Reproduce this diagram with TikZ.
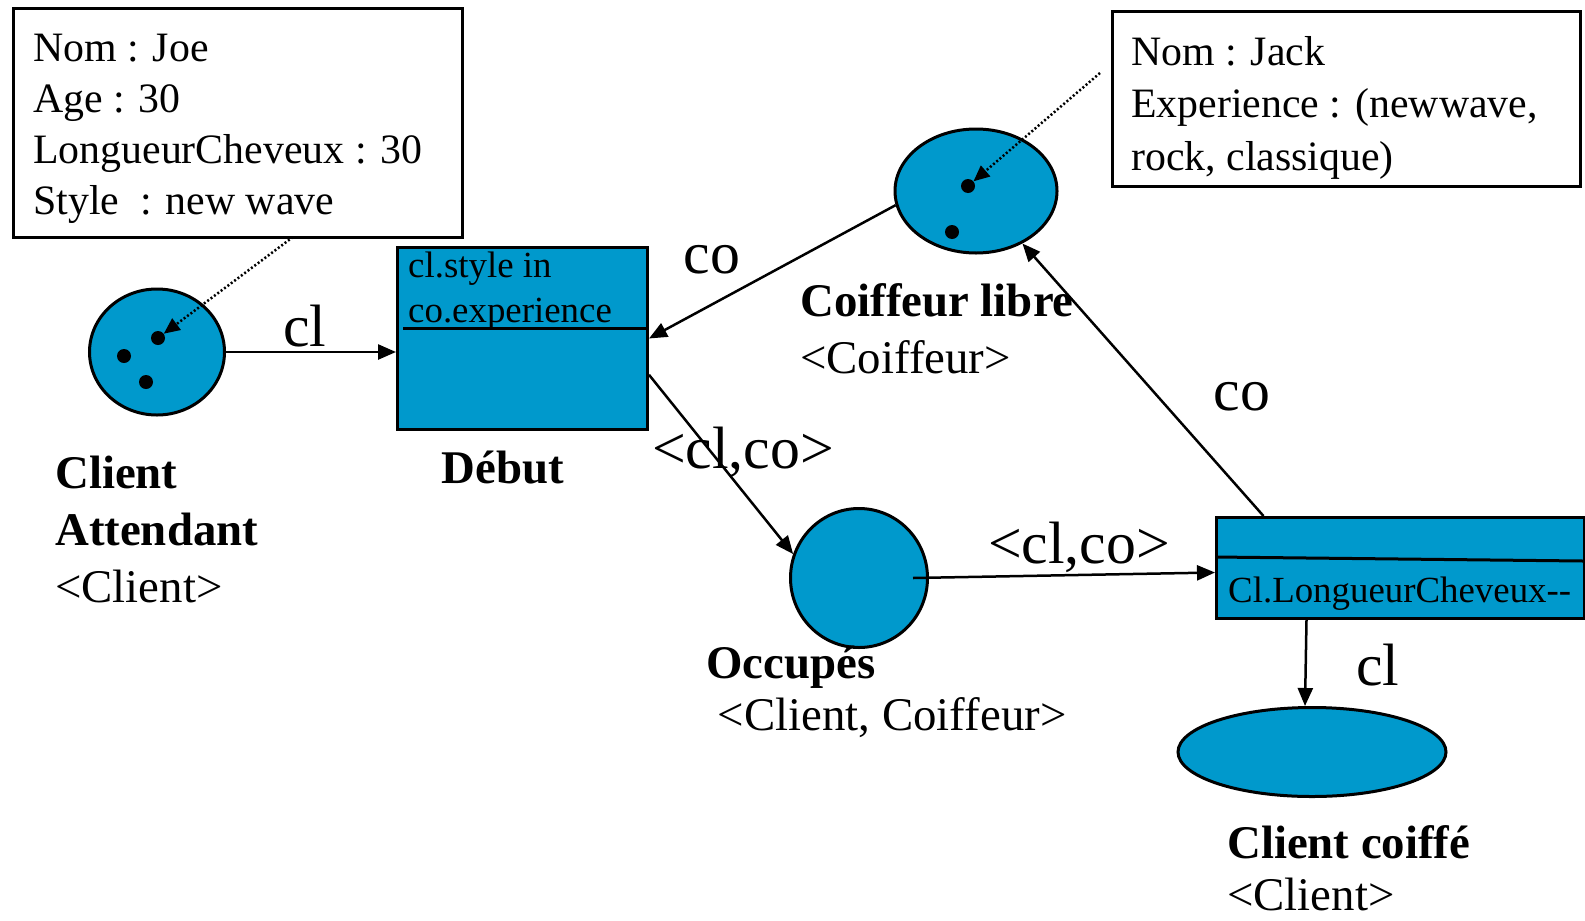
\documentclass[tikz,border=0pt]{standalone}
\usepackage{fontspec}
\setmainfont{Liberation Serif}
\usetikzlibrary{shapes.geometric,arrows.meta}
\definecolor{placefill}{RGB}{0,153,204}
\begin{document}
\begin{tikzpicture}[x=1bp,y=-1bp,
  place/.style={ellipse, draw, line width=3bp, fill=placefill, inner sep=0pt},
  trans/.style={rectangle, draw, line width=3bp, fill=placefill, inner sep=0pt, anchor=north west},
  token/.style={circle, fill=black, inner sep=0pt, minimum size=14bp},
  arc/.style={line width=2.5bp, -{Triangle[length=18bp,width=15bp]}},
  note/.style={line width=2.5bp, dash pattern=on 2bp off 2.2bp, -{Triangle[length=16bp,width=14bp]}},
  infobox/.style={rectangle, draw, line width=3bp, inner sep=0pt, anchor=north west},
  infotext/.style={align=left, font=\fontsize{42}{51}\selectfont, inner sep=0pt, anchor=base west},
  guardtext/.style={align=left, font=\fontsize{37}{45}\selectfont, inner sep=0pt, anchor=base west},
  placelabel/.style={align=left, font=\fontsize{47}{57}\selectfont, inner sep=0pt, anchor=base west},
  arclabel/.style={font=\fontsize{60}{60}\selectfont, inner sep=0pt, anchor=base},
]
\useasboundingbox (0,0) rectangle (1585,920);

% --- attribute notes (multi-line nodes sit on their last baseline) ---
\node[infobox, minimum width=449bp, minimum height=229bp] (joe) at (12,7) {};
\node[infotext] (joetext) at (33,214) {Nom : Joe\\Age : 30\\LongueurCheveux : 30\\Style\ \ : new wave};
\node[infobox, minimum width=468bp, minimum height=175bp] (jack) at (1111,10) {};
\node[infotext, font=\fontsize{42}{52.5}\selectfont] (jacktext) at (1131,170) {Nom : Jack\\Experience : (newwave,\\rock, classique)};

% --- places ---
\node[place, minimum width=135bp, minimum height=126bp] (ca) at (157,352) {};
\node[token] (ca1) at (158,338) {};
\node[token] (ca2) at (124,356) {};
\node[token] (ca3) at (146,382) {};
\node[placelabel] (calabel) at (55,602) {\textbf{Client}\\\textbf{Attendant}\\<Client>};

\node[place, minimum width=162bp, minimum height=124bp] (cf) at (976,191) {};
\node[token] (cf1) at (968,186) {};
\node[token] (cf2) at (952,232) {};
\node[placelabel] (cflabel) at (800,373) {\textbf{Coiffeur libre}\\<Coiffeur>};

\node[place, minimum width=137bp, minimum height=139bp] (occ) at (859,578) {};
\node[placelabel, font=\fontsize{47}{52}\selectfont] (occlabel) at (706,730) {\textbf{Occupés}\\\ <Client, Coiffeur>};

\node[place, minimum width=268bp, minimum height=89bp] (cc) at (1312,752) {};
\node[placelabel, font=\fontsize{47}{52}\selectfont] (cclabel) at (1227,910) {\textbf{Client coiffé}\\<Client>};

% --- transitions ---
\node[trans, minimum width=250bp, minimum height=182bp] (debut) at (396,246) {};
\draw[line width=3bp] (403,328) -- (647,328);
\node[guardtext] (debutguard) at (408,322) {cl.style in\\co.experience};
\node[placelabel, anchor=base] (debutlabel) at (503,483) {\textbf{Début}};

\node[trans, minimum width=368bp, minimum height=101bp] (lc) at (1215,516) {};
\draw[line width=3bp] (1215,557) -- (1583,561);
\node[guardtext] (lcaction) at (1228,602) {Cl.LongueurCheveux\mbox{-}\mbox{-}};

% --- note pointers ---
\coordinate (joetail) at (293,237);
\draw[note] (joetail) -- (ca1);
\coordinate (jacktail) at (1100,73);
\draw[note] (jacktail) -- (cf1);

% --- arcs ---
\draw[arc] (ca.east) -- (debut.west |- ca.east);
\node[arclabel] (l1) at (305,346) {cl};

\draw[arc] (cf.190) -- (debut.east);
\node[arclabel] (l2) at (712,273) {co};

\draw[arc] (debut.-16) -- (occ.160);
\node[arclabel] (l3) at (743,468) {<cl,co>};

\draw[arc] ([xshift=54bp]occ.center) -- ([yshift=-4.5bp]lc.west);
\node[arclabel] (l4) at (1079,563) {<cl,co>};

\draw[arc] ([xshift=-94bp]lc.south) -- ([xshift=-7bp]cc.north);
\node[arclabel] (l5) at (1378,685) {cl};

\draw[arc] ([xshift=-137bp]lc.north) -- (cf);
\node[arclabel] (l6) at (1242,410) {co};
\end{tikzpicture}
\end{document}
